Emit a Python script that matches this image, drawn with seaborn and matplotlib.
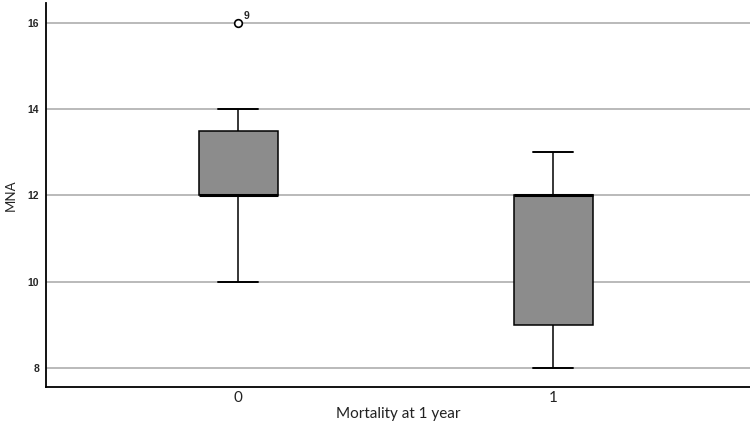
import pandas as pd
import matplotlib.pyplot as plt
import seaborn as sns

# MNA scores per mortality group (chosen so the box stats match the chart)
mna_alive = [10, 12, 12, 12, 12, 12, 13, 13, 14, 14, 16]
mna_dead = [8, 9, 9, 10, 12, 12, 12, 13, 13]
groups = ['0', '1']
outlier_case = '9'

df = pd.DataFrame({
    'Mortality at 1 year': ['0'] * len(mna_alive) + ['1'] * len(mna_dead),
    'MNA': mna_alive + mna_dead,
})

sns.set_style('white')
fig = plt.figure(figsize=(7.5, 4.33), dpi=100)
ax = fig.add_axes([0.0613, 0.1062, 0.9387, 0.8868])

ax.yaxis.grid(True, color='#b4b4b4', linewidth=1.3, zorder=0)
ax.set_axisbelow(True)

sns.boxplot(data=df, x='Mortality at 1 year', y='MNA', order=groups, ax=ax,
            color='#8c8c8c', saturation=1, width=0.25, linewidth=1.1,
            boxprops={'edgecolor': 'black', 'facecolor': '#8c8c8c'},
            whiskerprops={'color': 'black'}, capprops={'color': 'black', 'linewidth': 1.4},
            medianprops={'color': 'black', 'linewidth': 2.2},
            flierprops={'marker': 'o', 'markerfacecolor': 'white', 'markeredgecolor': 'black',
                        'markersize': 5.5, 'markeredgewidth': 1.2})

ax.annotate(outlier_case, (0, max(mna_alive)), xytext=(4, 3), textcoords='offset points',
            fontsize=7.5, fontweight='bold', family='Liberation Sans')

ax.set_xlim(-0.61, 1.625)
ax.set_ylim(7.56, 16.46)
ax.set_yticks([8, 10, 12, 14, 16])
for lab in ax.get_yticklabels():
    lab.set_family('Liberation Sans')
    lab.set_fontsize(7.5)
    lab.set_fontweight('bold')
for lab in ax.get_xticklabels():
    lab.set_family('Lato')
    lab.set_fontsize(11)
    lab.set_color('#222222')
ax.tick_params(axis='x', length=0, pad=3)
ax.tick_params(axis='y', length=0, pad=5)
ax.set_xlabel('Mortality at 1 year', family='Lato', fontsize=11, labelpad=1, color='#222222')
ax.set_ylabel('MNA', family='Lato', fontsize=9.5, labelpad=8, color='#222222')

sns.despine(ax=ax)
for s in ['left', 'bottom']:
    ax.spines[s].set_color('black')
    ax.spines[s].set_linewidth(1.3)

fig.savefig('out.png', dpi=100)
